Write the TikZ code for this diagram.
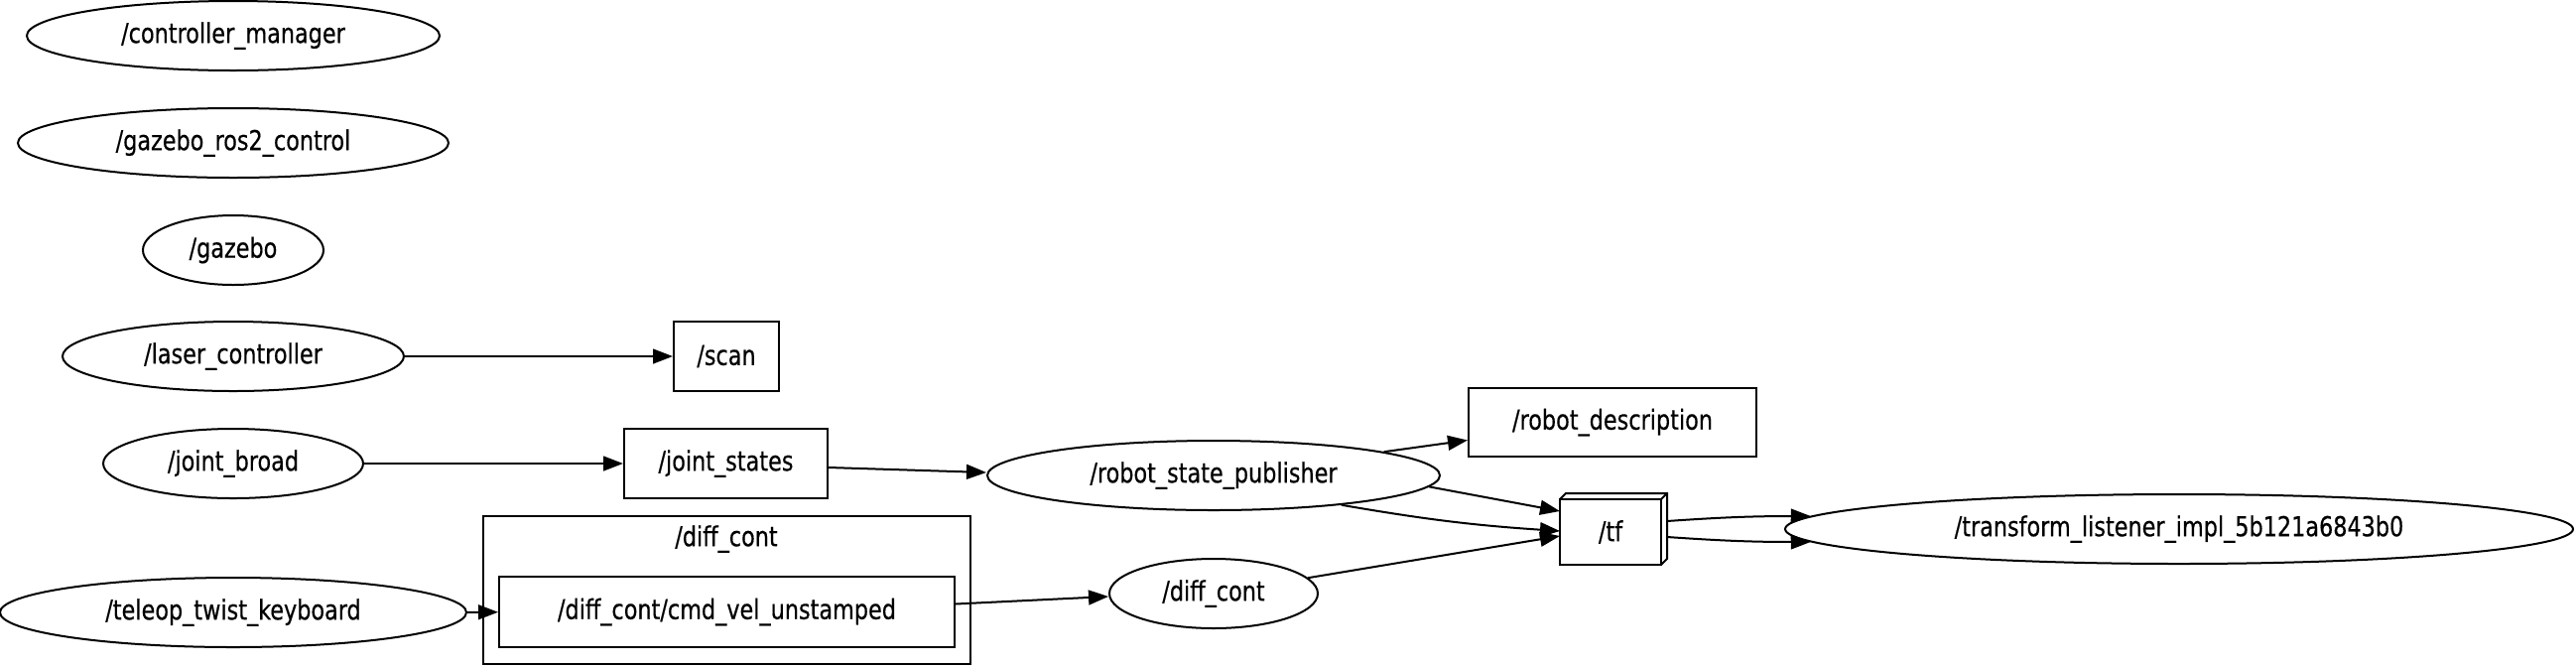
\documentclass[tikz,border=0pt]{standalone}
\usepackage{fontspec}
\setmainfont[FakeStretch=0.9,FakeBold=0.4]{DejaVu Sans Condensed}
\usetikzlibrary{arrows.meta,calc,shapes.geometric}
\begin{document}
\begin{tikzpicture}[x=0.5pt,y=-0.5pt,
  every node/.style={font=\fontsize{13.8}{16}\selectfont, inner sep=0pt, line width=1pt},
  nodeell/.style={draw, ellipse, minimum height=35pt},
  topicbox/.style={draw, rectangle, minimum height=35pt},
  conn/.style={line width=1pt, -{Triangle[length=10pt,width=7.4pt]}}]
\useasboundingbox (0,0) rectangle (2596,671);

% cluster
\draw[line width=1pt] (487,520) rectangle (978,669);
\node (clabel) at (732,543) {/diff\_cont};

% nodes
\node[nodeell, minimum width=208pt] (cm) at (235,36) {/controller\_manager};
\node[nodeell, minimum width=217pt] (grc) at (235,144) {/gazebo\_ros2\_control};
\node[nodeell, minimum width=91pt] (gz) at (235,252) {/gazebo};
\node[nodeell, minimum width=172pt] (laser) at (235,359) {/laser\_controller};
\node[nodeell, minimum width=131pt] (jb) at (235,467) {/joint\_broad};
\node[nodeell, minimum width=235pt] (teleop) at (235,617) {/teleop\_twist\_keyboard};

\node[topicbox, minimum width=53pt] (scan) at (732,359) {/scan};
\node[topicbox, minimum width=102.5pt] (js) at (731.5,467) {/joint\_states};
\node[topicbox, minimum width=229.5pt, minimum height=35.5pt] (cmd) at (732.5,616.5) {/diff\_cont/cmd\_vel\_unstamped};

\node[nodeell, minimum width=228pt] (rsp) at (1223,479) {/robot\_state\_publisher};
\node[topicbox, minimum width=145pt, minimum height=34.5pt] (rdesc) at (1625,425.5) {/robot\_description};
\node[nodeell, minimum width=105pt] (dcont) at (1223,598) {/diff\_cont};

% tf box3d
\node[minimum width=53pt, minimum height=35pt] (tf) at (1626,533) {};
\node (tflabel) at (1623,536) {/tf};
\draw[line width=1pt] (tf.south west) rectangle ($(tf.north east)+(-6,6)$);
\draw[line width=1pt] ($(tf.north west)+(0,6)$) -- ($(tf.north west)+(6,0)$) -- (tf.north east) -- ($(tf.south east)+(0,-6)$) -- ($(tf.south east)+(-6,0)$);
\draw[line width=1pt] ($(tf.north east)+(-6,6)$) -- (tf.north east);

\node[nodeell, minimum width=397pt] (tl) at (2196,533) {/transform\_listener\_impl\_5b121a6843b0};

% edges
\draw[conn] (laser) -- (scan);
\draw[conn] (jb) -- (js);
\draw[conn] (teleop) -- (cmd);
\draw[conn] ($(js.east)+(0,4)$) -- ($(rsp.west)+(0,-3)$);
\draw[conn] (rsp) -- ($(rdesc.west)+(0,18)$);
\draw[conn] (rsp.-3.8) -- ($(tf.west)+(0,-18)$);
\draw[conn] (rsp.-13.8) to[bend right=3] ($(tf.west)+(0,2)$);
\draw[conn] (dcont) -- ($(tf.west)+(0,7)$);
\draw[conn] ($(cmd.east)+(0,-8)$) -- ($(dcont.west)+(0,3)$);
\draw[conn] ($(tf.east)+(0,-8)$) to[bend left=2] (tl.178);
\draw[conn] ($(tf.east)+(0,8)$) to[bend right=2] (tl.182);
\end{tikzpicture}
\end{document}
